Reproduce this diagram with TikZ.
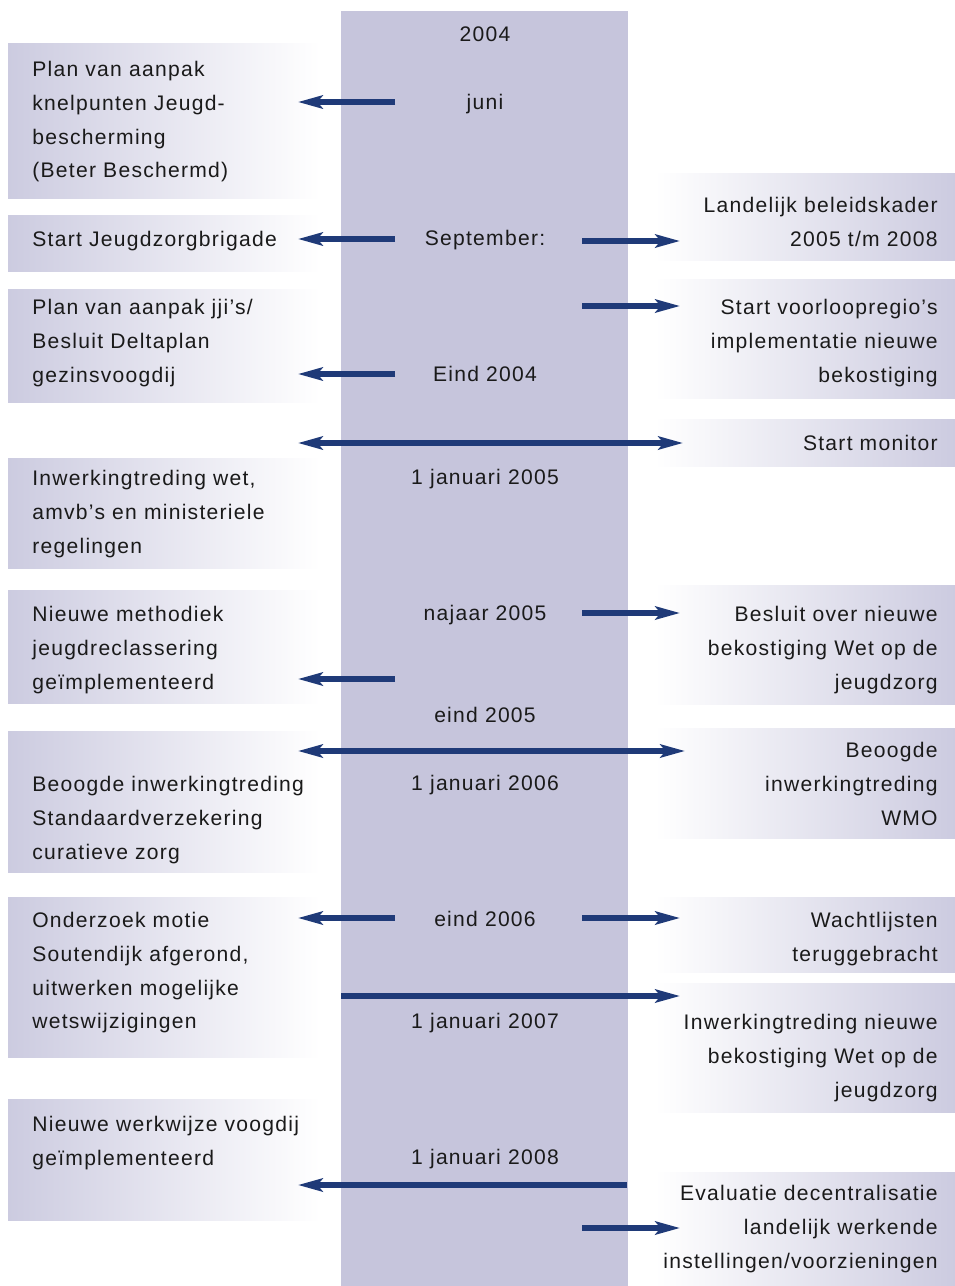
\documentclass[tikz,border=0pt]{standalone}
\usepackage{fontspec}
\setmainfont[LetterSpace=6]{Liberation Sans}
\usetikzlibrary{arrows.meta}
\definecolor{bandblue}{HTML}{C6C5DC}
\definecolor{boxblue}{HTML}{CCCBE0}
\definecolor{arrowblue}{HTML}{1F3A78}
\definecolor{inkgray}{HTML}{1A1A1A}
\newcommand{\tlfont}{\fontsize{12pt}{19.28pt}\selectfont}
\tikzstyle{lshade} = [left color=boxblue, right color=white]
\tikzstyle{rshade} = [left color=white, right color=boxblue]
\tikzstyle{ltext} = [anchor=north west, inner sep=0pt, yshift=9pt, align=left, font=\tlfont, text=inkgray]
\tikzstyle{rtext} = [anchor=north east, inner sep=0pt, yshift=9pt, align=right, font=\tlfont, text=inkgray]
\tikzstyle{date} = [anchor=base, inner sep=0pt, yshift=-4.5pt, font=\tlfont, text=inkgray]
\tikzstyle{arrow} = [line width=3pt, draw=arrowblue, -{Stealth[length=14pt,width=7.5pt,inset=3pt]}]
\tikzstyle{twoway} = [line width=3pt, draw=arrowblue, {Stealth[length=14pt,width=7.5pt,inset=3pt]}-{Stealth[length=14pt,width=7.5pt,inset=3pt]}]

\begin{document}
\begin{tikzpicture}[x=0.02cm,y=-0.02cm]
        \useasboundingbox (0,0) rectangle (955,1286);
        % middle band
        \fill[bandblue] (341,11) rectangle (628,1286);
        % left boxes
        \shade[lshade] (8,43) rectangle (320,198);
        \shade[lshade] (8,215) rectangle (320,271);
        \shade[lshade] (8,289) rectangle (320,402);
        \shade[lshade] (8,458) rectangle (320,568);
        \shade[lshade] (8,590) rectangle (320,703);
        \shade[lshade] (8,731) rectangle (320,872);
        \shade[lshade] (8,897) rectangle (320,1057);
        \shade[lshade] (8,1099) rectangle (320,1220);
        % right boxes
        \shade[rshade] (655,173) rectangle (955,260);
        \shade[rshade] (655,279) rectangle (955,398);
        \shade[rshade] (655,419) rectangle (955,466);
        \shade[rshade] (655,585) rectangle (955,704);
        \shade[rshade] (655,728) rectangle (955,838);
        \shade[rshade] (655,897) rectangle (955,972);
        \shade[rshade] (655,983) rectangle (955,1112);
        \shade[rshade] (655,1172) rectangle (955,1286);

        % dates
        \node[date] (d2004) at (485,34) {2004};
        \node[date] (juni) at (485,102) {juni};
        \node[date] (sept) at (485,238) {September:};
        \node[date] (eind04) at (485,374) {Eind 2004};
        \node[date] (jan05) at (485,477) {1 januari 2005};
        \node[date] (najaar05) at (485,613) {najaar 2005};
        \node[date] (eind05) at (485,715) {eind 2005};
        \node[date] (jan06) at (485,783) {1 januari 2006};
        \node[date] (eind06) at (485,919) {eind 2006};
        \node[date] (jan07) at (485,1021) {1 januari 2007};
        \node[date] (jan08) at (485,1157) {1 januari 2008};

        % left texts
        \node[ltext] (plan) at (32,68) {\strut Plan van aanpak\\knelpunten Jeugd-\\bescherming\\(Beter Beschermd)};
        \node[ltext] (brigade) at (32,238) {\strut Start Jeugdzorgbrigade};
        \node[ltext] (deltaplan) at (32,306) {\strut Plan van aanpak jji’s/\\Besluit Deltaplan\\gezinsvoogdij};
        \node[ltext] (wet) at (32,477) {\strut Inwerkingtreding wet,\\amvb’s en ministeriele\\regelingen};
        \node[ltext] (methodiek) at (32,613) {\strut Nieuwe methodiek\\jeugdreclassering\\geïmplementeerd};
        \node[ltext] (standaard) at (32,783) {\strut Beoogde inwerkingtreding\\Standaardverzekering\\curatieve zorg};
        \node[ltext] (soutendijk) at (32,919) {\strut Onderzoek motie\\Soutendijk afgerond,\\uitwerken mogelijke\\wetswijzigingen};
        \node[ltext] (voogdij) at (32,1123) {\strut Nieuwe werkwijze voogdij\\geïmplementeerd};

        % right texts
        \node[rtext] (kader) at (938,204) {\strut Landelijk beleidskader\\2005 t/m 2008};
        \node[rtext] (voorloop) at (938,306) {\strut Start voorloopregio’s\\implementatie nieuwe\\bekostiging};
        \node[rtext] (monitor) at (938,442) {\strut Start monitor};
        \node[rtext] (besluit) at (938,613) {\strut Besluit over nieuwe\\bekostiging Wet op de\\jeugdzorg};
        \node[rtext] (wmo) at (938,749) {\strut Beoogde\\inwerkingtreding\\WMO};
        \node[rtext] (wachtlijst) at (938,919) {\strut Wachtlijsten\\teruggebracht};
        \node[rtext] (bekostiging) at (938,1021) {\strut Inwerkingtreding nieuwe\\bekostiging Wet op de\\jeugdzorg};
        \node[rtext] (evaluatie) at (938,1192) {\strut Evaluatie decentralisatie\\landelijk werkende\\instellingen/voorzieningen};

        % arrow ends
        \coordinate (juniS) at (395,102);   \coordinate (juniT) at (298,102);
        \coordinate (septS) at (395,239);   \coordinate (septT) at (298,239);
        \coordinate (septR) at (582,241);   \coordinate (kaderT) at (680,241);
        \coordinate (voorS) at (582,306);   \coordinate (voorT) at (680,306);
        \coordinate (eind04S) at (395,374); \coordinate (eind04T) at (298,374);
        \coordinate (monL) at (298,443);    \coordinate (monR) at (683,443);
        \coordinate (najS) at (582,613);    \coordinate (najT) at (680,613);
        \coordinate (methS) at (395,679);   \coordinate (methT) at (298,679);
        \coordinate (wmoL) at (298,751);    \coordinate (wmoR) at (685,751);
        \coordinate (e06S) at (395,918);    \coordinate (e06T) at (298,918);
        \coordinate (e06R) at (582,918);    \coordinate (wachtT) at (680,918);
        \coordinate (j07S) at (341,996);    \coordinate (j07T) at (680,996);
        \coordinate (j08S) at (627,1185);   \coordinate (j08T) at (298,1185);
        \coordinate (evalS) at (582,1228);  \coordinate (evalT) at (680,1228);

        % arrows
        \draw[arrow] (juniS) -- (juniT);
        \draw[arrow] (septS) -- (septT);
        \draw[arrow] (septR) -- (kaderT);
        \draw[arrow] (voorS) -- (voorT);
        \draw[arrow] (eind04S) -- (eind04T);
        \draw[twoway] (monL) -- (monR);
        \draw[arrow] (najS) -- (najT);
        \draw[arrow] (methS) -- (methT);
        \draw[twoway] (wmoL) -- (wmoR);
        \draw[arrow] (e06S) -- (e06T);
        \draw[arrow] (e06R) -- (wachtT);
        \draw[arrow] (j07S) -- (j07T);
        \draw[arrow] (j08S) -- (j08T);
        \draw[arrow] (evalS) -- (evalT);
      \end{tikzpicture}
\end{document}
